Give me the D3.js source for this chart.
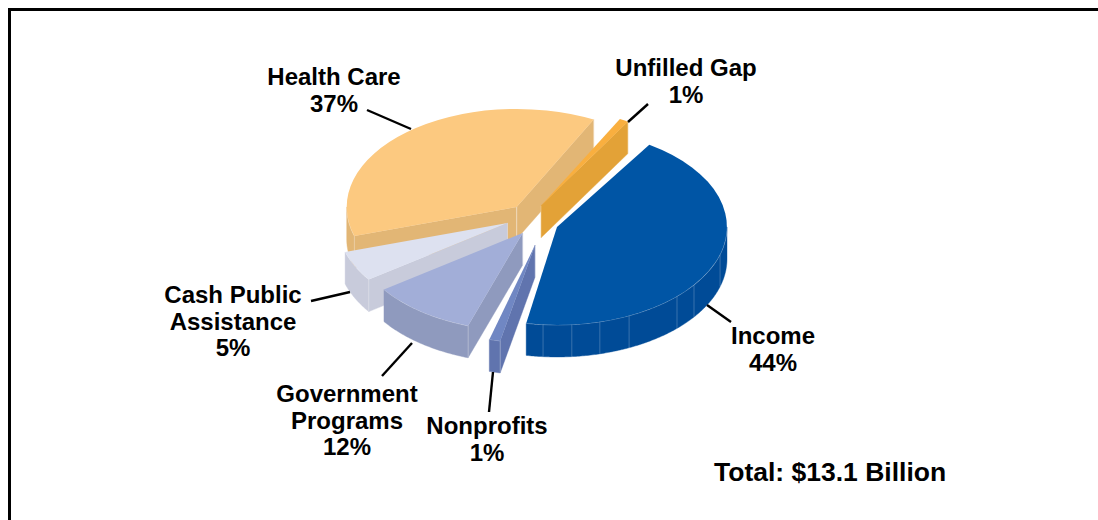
<!DOCTYPE html>
<html>
<head>
<meta charset="utf-8">
<script src="https://cdn.jsdelivr.net/npm/d3@7/dist/d3.min.js"></script>
<style>
html,body{margin:0;padding:0;background:#fff;overflow:hidden}
svg{display:block}
text{font-family:"Liberation Sans",Arial,sans-serif;font-weight:700;fill:#000}
</style>
</head>
<body>
<svg id="chart" width="1098" height="520"></svg>
<script>
// ---- data ----
const categories   = ["Income","Nonprofits","Government Programs","Cash Public Assistance","Health Care","Unfilled Gap"];
const percentLabel = ["44%","1%","12%","5%","37%","1%"];
// drawn share of the circle (percent), as measured from the sector angles in the picture
const drawnShare   = [43.8,1.05,10.0,5.03,37.3,0.86];
// empty wedge following each slice (percent of the circle)
const gapAfter     = [0.39,0.86,0,0,0.2,0.6];
const labelLines   = [["Income"],["Nonprofits"],["Government","Programs"],["Cash Public","Assistance"],["Health Care"],["Unfilled Gap"]];
const totalLabel   = "Total: $13.1 Billion";
const incomeFacetDegrees = [106.4,126.3,135.1,154.9,165.4,175,184.7];

// ---- styles and layout ----
const topColors  = ["#0055A5","#7087C3","#A2AED8","#DDE1F0","#FCC980","#F9AF3F"];
const wallColors = ["#004B97","#6074AE","#8F9ABE","#C8CBDB","#E2B675","#E3A237"];
const explodeX = [0.147,0.018,-0.055,-0.144,-0.090,0.053];
const explodeY = [0.061,0.245,0.122,0.020,-0.143,-0.155];
const drawOrder = [4,5,3,2,1,0];
const depth = 32;
const startDeg = 32.9;
const x = d3.scaleLinear([-1,1],[362,702]);
const y = d3.scaleLinear([-1,1],[123,319]);
const rx = (x(1)-x(-1))/2, ry = (y(1)-y(-1))/2;
// label anchor: centre x, first baseline; leader: from, to
const labelPos = [[773,344],[487,434],[347,402],[233,303],[334,85],[686,76]];
const leaders  = [[707,305,731,322],[493,372,489,412],[412,343,382,376],[350,292,311,301],[367,110,411,129],[628,122,648,104]];
const lineGap = 26.7;

const svg = d3.select("#chart");
svg.append("rect").attr("x",9.5).attr("y",9.5).attr("width",1300).attr("height",800)
   .attr("fill","#fff").attr("stroke","#000").attr("stroke-width",3);

// ---- pie layout: slices interleaved with their gaps ----
const rad = d => d*Math.PI/180;
const mixed = categories.flatMap((c,i)=>[{i,v:drawnShare[i]},{i:-1,v:gapAfter[i]}]);
const arcs = d3.pie().sort(null).value(d=>d.v)
  .startAngle(rad(startDeg)).endAngle(rad(startDeg+360))(mixed)
  .filter(a=>a.data.i>=0);
const slices = categories.map((c,i)=>{
  const a = arcs.find(s=>s.data.i===i);
  return {i,t0:a.startAngle,t1:a.endAngle,ox:explodeX[i],oy:explodeY[i]};
});
const px = (s,t) => x(s.ox+Math.sin(t));
const py = (s,t) => y(s.oy-Math.cos(t));
const ax = s => x(s.ox), ay = s => y(s.oy);
const line = d3.line();
const sector = d3.arc().innerRadius(0).outerRadius(1);
const pie = svg.append("g");

function rimRanges(s){
  // front half of the rim: angles 90..270 degrees, also one turn later
  const out=[];
  [0,2*Math.PI].forEach(k=>{
    const a=Math.max(s.t0,Math.PI/2+k), b=Math.min(s.t1,1.5*Math.PI+k);
    if(b>a) out.push([a,b]);
  });
  return out;
}
drawOrder.forEach(i=>{
  const s = slices[i], g = pie.append("g");
  const walls=[];
  if(Math.sin(s.t0)<0) walls.push(s.t0);
  if(Math.sin(s.t1)>0) walls.push(s.t1);
  walls.forEach(t=>{
    g.append("path").attr("fill",wallColors[i]).attr("stroke",wallColors[i]).attr("stroke-width",0.4)
     .attr("d",line([[ax(s),ay(s)],[px(s,t),py(s,t)],[px(s,t),py(s,t)+depth],[ax(s),ay(s)+depth]])+"Z");
  });
  rimRanges(s).forEach(([a,b])=>{
    const ts=d3.range(a,b,0.01).concat([b]);
    const topEdge=ts.map(t=>[px(s,t),py(s,t)]);
    const botEdge=ts.slice().reverse().map(t=>[px(s,t),py(s,t)+depth]);
    g.append("path").attr("fill",wallColors[i]).attr("stroke",wallColors[i]).attr("stroke-width",0.4)
     .attr("d",line(topEdge.concat(botEdge))+"Z");
    g.append("path").attr("fill","none").attr("stroke","#fff").attr("stroke-opacity",0.3).attr("stroke-width",0.8)
     .attr("d",line(topEdge));
  });
  // light creases at the wall corners
  walls.forEach(t=>{
    [[px(s,t),py(s,t)],[ax(s),ay(s)]].forEach(p=>{
      g.append("path").attr("fill","none").attr("stroke","#fff").attr("stroke-opacity",0.35).attr("stroke-width",0.8)
       .attr("d",line([p,[p[0],p[1]+depth]]));
    });
  });
  g.append("path").attr("fill",topColors[i])
   .attr("transform",`translate(${ax(s)},${ay(s)}) scale(${rx},${ry})`)
   .attr("d",sector({startAngle:s.t0,endAngle:s.t1}));
  if(i===0){
    incomeFacetDegrees.forEach(d=>{
      const t=rad(d);
      g.append("path").attr("fill","none").attr("stroke","#fff").attr("stroke-opacity",0.28).attr("stroke-width",0.8)
       .attr("d",line([[px(s,t),py(s,t)],[px(s,t),py(s,t)+depth]]));
    });
  }
});

// ---- leaders and labels ----
svg.append("g").selectAll("line").data(leaders).join("line")
  .attr("x1",d=>d[0]).attr("y1",d=>d[1]).attr("x2",d=>d[2]).attr("y2",d=>d[3])
  .attr("stroke","#000").attr("stroke-width",2.4);

categories.forEach((c,i)=>{
  const t = svg.append("text").attr("text-anchor","middle").attr("font-size",24);
  labelLines[i].concat([percentLabel[i]]).forEach((l,k)=>{
    t.append("tspan").attr("x",labelPos[i][0]).attr("y",labelPos[i][1]+k*lineGap).text(l);
  });
});
svg.append("text").attr("x",714).attr("y",481).attr("font-size",26.5).text(totalLabel);
</script>
</body>
</html>
